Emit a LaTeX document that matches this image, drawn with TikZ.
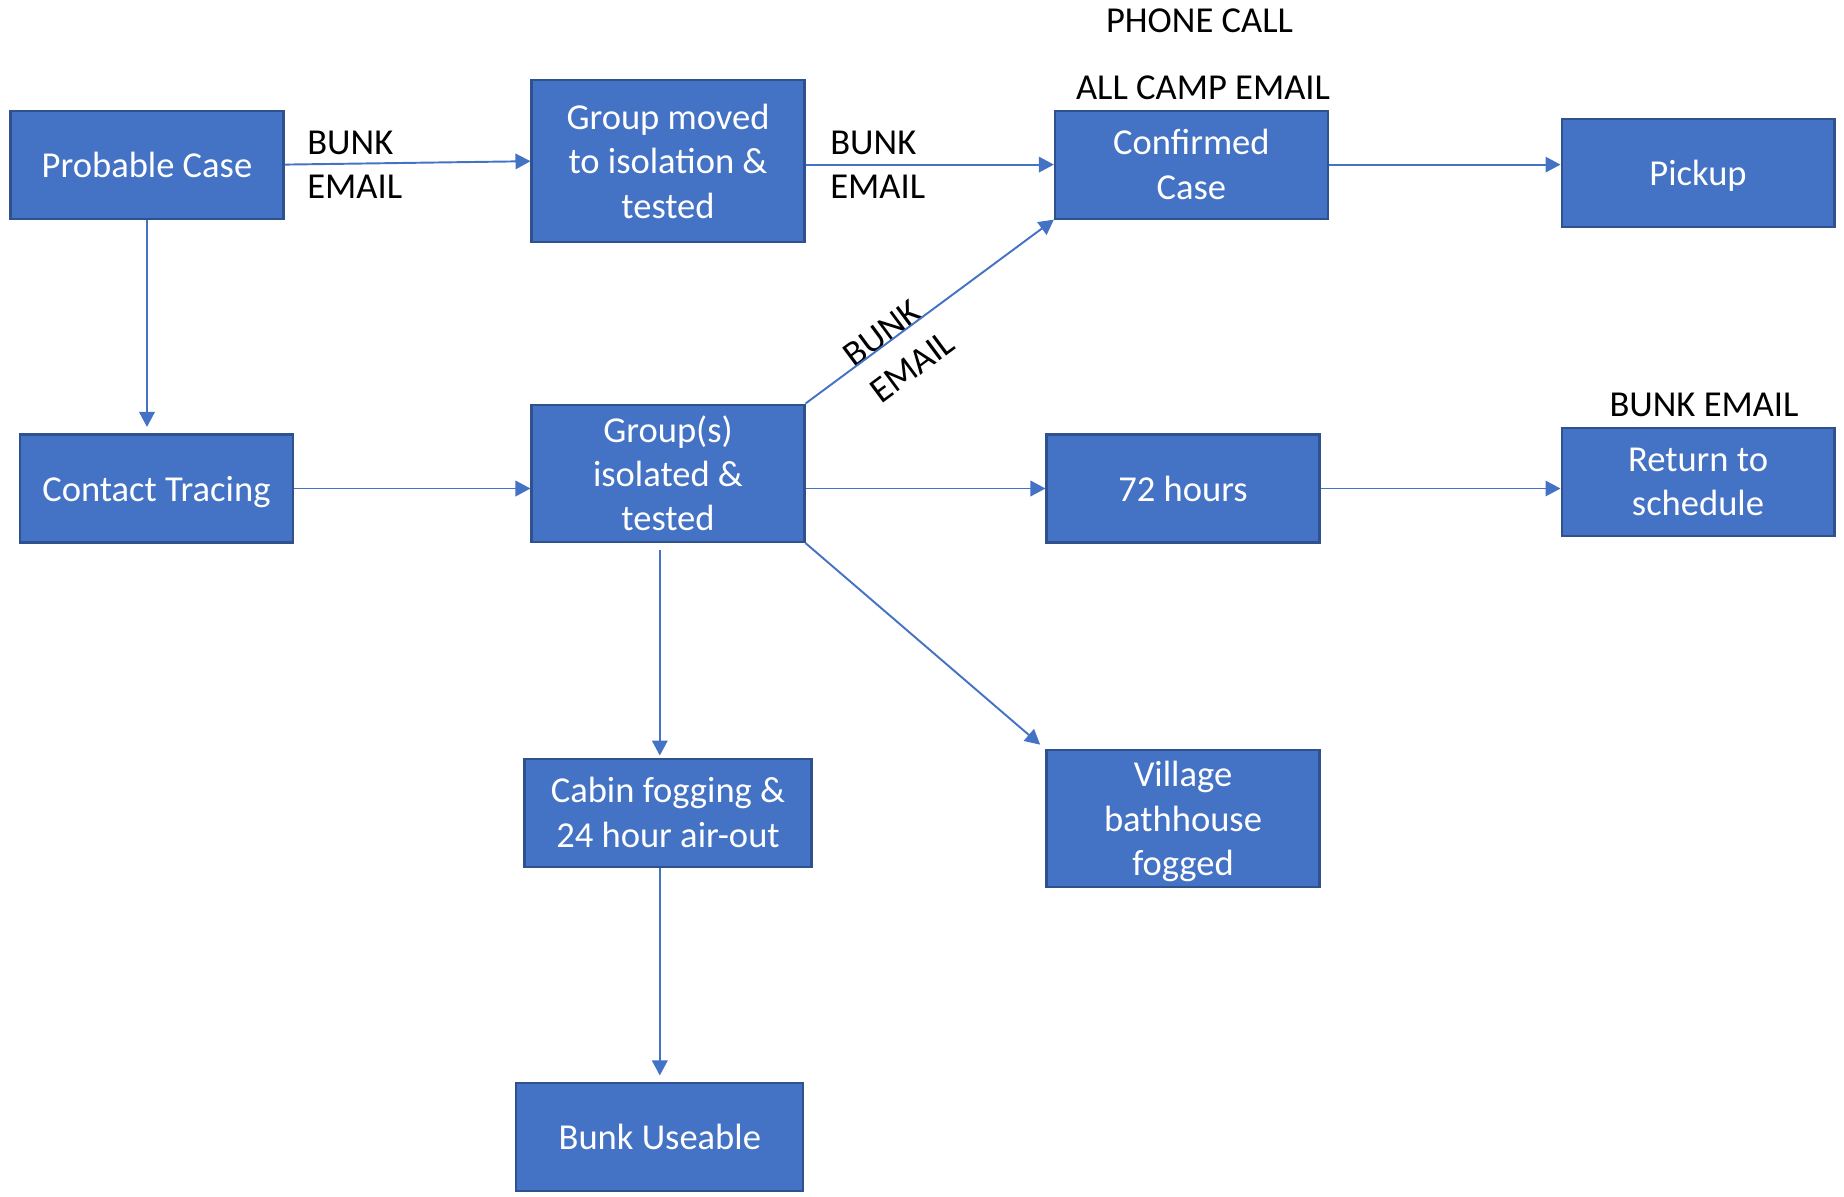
\documentclass[tikz,border=0pt]{standalone}
\usepackage{fontspec}
\setmainfont{Carlito}
\usetikzlibrary{arrows.meta,positioning}
\definecolor{boxblue}{HTML}{4472C4}
\definecolor{boxedge}{HTML}{2F528F}
\tikzset{
	stepbox/.style={draw=boxedge, line width=1.2pt, fill=boxblue, text=white, align=center,
		minimum width=5.46cm, minimum height=2.16cm, inner sep=0pt,
		font=\fontsize{20.8}{25.3}\selectfont},
	nodepth/.style={text depth=0pt},
	flow/.style={draw=boxblue, line width=1.1pt, -{Triangle[length=0.3cm,width=0.31cm]}},
	note/.style={inner sep=0pt, font=\fontsize{20.8}{25.3}\selectfont},
}
\begin{document}
\begin{tikzpicture}[x=0.02cm, y=-0.02cm]
		\useasboundingbox (0, 0) rectangle (1844, 1196);
		
		% top row
		\node[stepbox] (prob) at (147, 164.6) {Probable Case};
		\node[stepbox, minimum height=3.24cm] (moved) at (668, 161.2) {Group moved\\to isolation \&\\tested};
		\node[stepbox] (conf) at (1191.4, 164.6) {Confirmed\\Case};
		\node[stepbox, nodepth] (pickup) at (1698, 173) {Pickup};
		
		% middle row
		\node[stepbox, nodepth] (trace) at (156.4, 488.5) {Contact Tracing};
		\node[stepbox, minimum height=2.75cm] (iso) at (668, 473.3) {Group(s)\\isolated \&\\tested};
		\node[stepbox] (hours) at (1183, 488.5) {72 hours};
		\node[stepbox] (ret) at (1698, 482) {Return to\\schedule};
		
		% bottom
		\node[stepbox, minimum width=5.74cm] (cabin) at (668, 812.6) {Cabin fogging \&\\24 hour air-out};
		\node[stepbox, nodepth, minimum height=2.73cm] (village) at (1183, 818.5) {Village\\bathhouse\\fogged};
		\node[stepbox, minimum width=5.74cm] (bunk) at (659.8, 1137) {Bunk Useable};
		
		% messages
		\node[note, align=left, anchor=west] (mail1) at (307, 164.6) {BUNK\\EMAIL};
		\node[note, align=left, anchor=west] (mail2) at (830, 164.6) {BUNK\\EMAIL};
		\node[note] (call) at (1199.5, 21) {PHONE CALL};
		\node[note] (camp) at (1203, 88) {ALL CAMP EMAIL};
		\node[note] (mail4) at (1704, 404.5) {BUNK EMAIL};
		\node[note, align=left, rotate=36.6] (mail3) at (899, 349) {BUNK\\EMAIL};
		
		\draw[flow] (prob.east) -- (moved.west);
		\draw[flow] (moved.east |- conf.west) -- (conf.west);
		\draw[flow] (conf.east) -- (conf.east -| pickup.west);
		\draw[flow, shorten >=0.13cm] (prob.south) -- (prob.south |- trace.north);
		\draw[flow] (trace.east) -- (trace.east -| iso.west);
		\draw[flow] (iso.east |- hours.west) -- (hours.west);
		\draw[flow] (hours.east) -- (hours.east -| ret.west);
		\draw[flow] (iso.north east) -- (conf.south west);
		\draw[flow, shorten >=0.14cm] (iso.south east) -- (village.north west);
		\draw[flow, shorten <=0.14cm, shorten >=0.04cm] (iso.south -| bunk.north) -- (cabin.north -| bunk.north);
		\draw[flow, shorten >=0.13cm] (cabin.south -| bunk.north) -- (bunk.north);
	\end{tikzpicture}
\end{document}
